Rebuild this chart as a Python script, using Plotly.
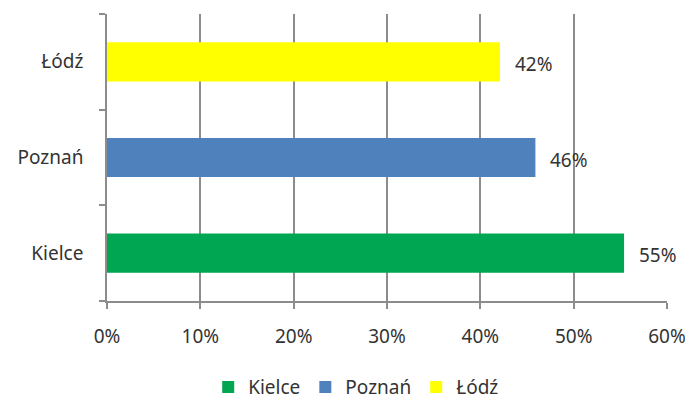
import plotly.graph_objects as go

categories = ["Kielce", "Poznań", "Łódź"]
values = [0.554, 0.459, 0.421]
labels = ["55%", "46%", "42%"]
colors = ["#00a651", "#4f81bd", "#ffff00"]
x_ticks = [0, 0.1, 0.2, 0.3, 0.4, 0.5, 0.6]
x_tick_labels = ["0%", "10%", "20%", "30%", "40%", "50%", "60%"]

FONT = "Noto Sans"
FS = 19
fig = go.Figure()
for cat, val, col in zip(categories, values, colors):
    fig.add_trace(go.Bar(
        y=[cat], x=[val], name=cat, orientation="h",
        marker=dict(color=col, line=dict(width=0)),
        width=0.41,
    ))

for cat, val, lab in zip(categories, values, labels):
    fig.add_annotation(x=val, y=cat, text=lab, showarrow=False,
                       xanchor="left", xshift=13, yshift=-2,
                       font=dict(family=FONT, size=FS, color="#333333"))

# page body has an 8px margin, so the figure is 8px smaller and margins shifted
fig.update_layout(
    width=685, height=392,
    margin=dict(l=99, r=26, t=6, b=99, autoexpand=False),
    paper_bgcolor="white", plot_bgcolor="white",
    barmode="overlay",
    font=dict(family=FONT, size=FS, color="#333333"),
    legend=dict(orientation="h", x=0.445, xanchor="center",
                y=-0.30, yanchor="middle", font=dict(size=FS),
                traceorder="normal", itemwidth=30),
    showlegend=True,
)
fig.update_xaxes(range=[0, 0.6], tickvals=x_ticks, ticktext=x_tick_labels,
                 tickangle=0, automargin=False,
                 showgrid=True, gridcolor="#8c8c8c", gridwidth=1.5,
                 showline=True, linecolor="#8c8c8c", linewidth=1.5,
                 ticks="outside", ticklen=6, tickcolor="#8c8c8c", tickwidth=1.5,
                 zeroline=False, ticklabelstandoff=11)
fig.update_yaxes(categoryorder="array", categoryarray=categories, automargin=False,
                 showline=True, linecolor="#8c8c8c", linewidth=1.5,
                 ticks="outside", ticklen=6, tickcolor="#8c8c8c", tickwidth=1.5,
                 tickson="boundaries", showgrid=False, ticklabelstandoff=18)

fig.write_html("out.html")
